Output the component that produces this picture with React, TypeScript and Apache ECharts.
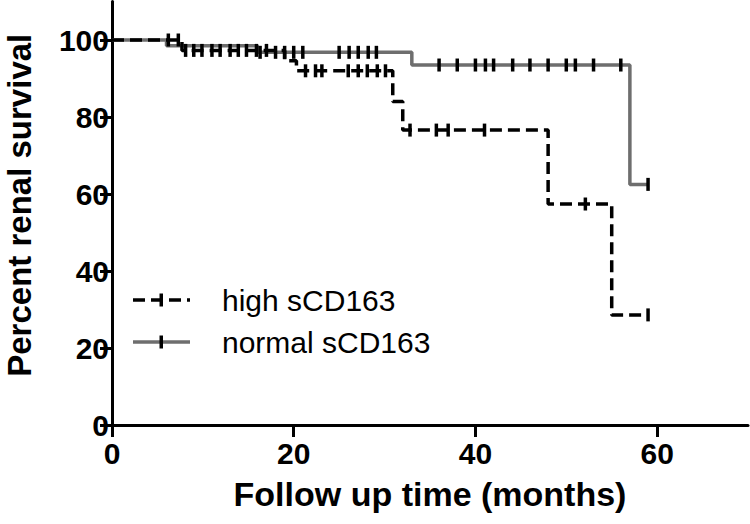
import React, { useEffect, useRef } from "react";
import * as echarts from "echarts";

// ---- data ----
const xTickValues = [0, 20, 40, 60];
const yTickValues = [0, 20, 40, 60, 80, 100];

const highName = "high sCD163";
const highEventTimes = [0, 7.7, 19.0, 20.3, 30.9, 32.0, 48.0, 55.0];
const highEventSurvival = [100, 97.3, 94.6, 92.0, 84.0, 76.6, 57.4, 28.6];
const highCensorTimes = [
  6.2, 7.3, 8.1, 9.0, 9.9, 11.0, 11.9, 13.0, 13.9, 14.8, 15.9, 17.0,
  21.3, 22.4, 23.1, 26.0, 27.1, 28.1, 29.2, 30.1,
  32.8, 35.7, 37.0, 41.0, 52.1, 59.0,
];

const normalName = "normal sCD163";
const normalEventTimes = [0, 6.0, 16.0, 33.0, 57.0];
const normalEventSurvival = [100, 98.5, 96.8, 93.5, 62.5];
const normalCensorTimes = [
  16.3, 18.0, 19.0, 20.0, 21.0, 25.0, 26.1, 27.1, 28.2, 29.1,
  36.0, 38.0, 40.0, 41.1, 42.0, 44.1, 46.0, 48.0, 50.0, 51.0, 53.0, 56.0, 59.0,
];

const FONT = '"Liberation Sans", Arial, Helvetica, sans-serif';
const GRAY = "#6e6e6e";
const DASH = [12, 6];

function buildCurve(eventTimes: number[], eventSurv: number[], censorTimes: number[]) {
  const pts: { t: number; s: number; censor: boolean }[] = [];
  eventTimes.forEach((t, i) => pts.push({ t, s: eventSurv[i], censor: false }));
  censorTimes.forEach((t) => {
    let s = eventSurv[0];
    for (let i = 0; i < eventTimes.length; i++) if (eventTimes[i] <= t) s = eventSurv[i];
    pts.push({ t, s, censor: true });
  });
  pts.sort((a, b) => a.t - b.t || (a.censor ? 1 : 0) - (b.censor ? 1 : 0));
  return pts.map((p) =>
    p.censor ? { value: [p.t, p.s] } : { value: [p.t, p.s], symbol: "none" }
  );
}

function legendItem(y: number, label: string, dashed: boolean) {
  return [
    {
      type: "line",
      shape: { x1: 133, y1: y, x2: 190, y2: y },
      style: {
        stroke: dashed ? "#000" : GRAY,
        lineWidth: 3.5,
        lineDash: dashed ? DASH : null,
      },
      silent: true,
    },
    {
      type: "rect",
      shape: { x: 159.5, y: y - 6.5, width: 3.5, height: 13 },
      style: { fill: "#000" },
      silent: true,
    },
    {
      type: "text",
      x: 222,
      y,
      style: {
        text: label,
        fontSize: 30,
        fontFamily: FONT,
        fill: "#000",
        verticalAlign: "middle",
        align: "left",
      },
      silent: true,
    },
  ];
}

export default function App() {
  const ref = useRef<HTMLDivElement>(null);
  useEffect(() => {
    if (!ref.current) return;
    const chart = echarts.init(ref.current, null, { renderer: "svg" });
    const axisLine = { lineStyle: { color: "#000", width: 3 } };
    const axisTick = { length: 12, lineStyle: { color: "#000", width: 3 } };
    const tickLabel = {
      fontSize: 30,
      fontWeight: "bold",
      color: "#000",
      fontFamily: FONT,
    };
    const censorSeries = {
      type: "line",
      step: "end",
      symbol: "rect",
      symbolSize: [3.5, 13],
      itemStyle: { color: "#000" },
      emphasis: { disabled: true },
      silent: true,
    };
    chart.setOption({
      animation: false,
      backgroundColor: "#fff",
      grid: {
        left: 112,
        right: 2,
        top: 1.5,
        bottom: 99,
        containLabel: false,
        outerBoundsMode: "none",
      },
      graphic: [...legendItem(300, highName, true), ...legendItem(342, normalName, false)],
      xAxis: {
        type: "value",
        min: 0,
        max: 70,
        name: "Follow up time (months)",
        nameLocation: "middle",
        nameGap: 52,
        nameTextStyle: { fontSize: 34, fontWeight: "bold", color: "#000", fontFamily: FONT },
        axisLine: { ...axisLine, onZero: false },
        axisTick: { ...axisTick, customValues: xTickValues },
        axisLabel: { ...tickLabel, customValues: xTickValues, margin: 13 },
        splitLine: { show: false },
      },
      yAxis: {
        type: "value",
        min: 0,
        max: 110,
        name: "Percent renal survival",
        nameLocation: "middle",
        nameGap: 76,
        nameTextStyle: {
          fontSize: 33,
          fontWeight: "bold",
          color: "#000",
          fontFamily: FONT,
          lineHeight: 33,
          padding: [0, 0, 0, 16],
        },
        axisLine: { ...axisLine, onZero: false },
        axisTick: { ...axisTick, customValues: yTickValues },
        axisLabel: { ...tickLabel, customValues: yTickValues, margin: 3 },
        splitLine: { show: false },
      },
      series: [
        {
          ...censorSeries,
          name: normalName,
          data: buildCurve(normalEventTimes, normalEventSurvival, normalCensorTimes),
          lineStyle: { color: GRAY, width: 3.5 },
          z: 2,
        },
        {
          ...censorSeries,
          name: highName,
          data: buildCurve(highEventTimes, highEventSurvival, highCensorTimes),
          lineStyle: { color: "#000", width: 3.5, type: DASH },
          z: 3,
        },
      ],
    });
    return () => chart.dispose();
  }, []);
  return (
    <div
      ref={ref}
      style={{ position: "fixed", left: 0, top: 0, width: 750, height: 524, background: "#fff" }}
    />
  );
}
